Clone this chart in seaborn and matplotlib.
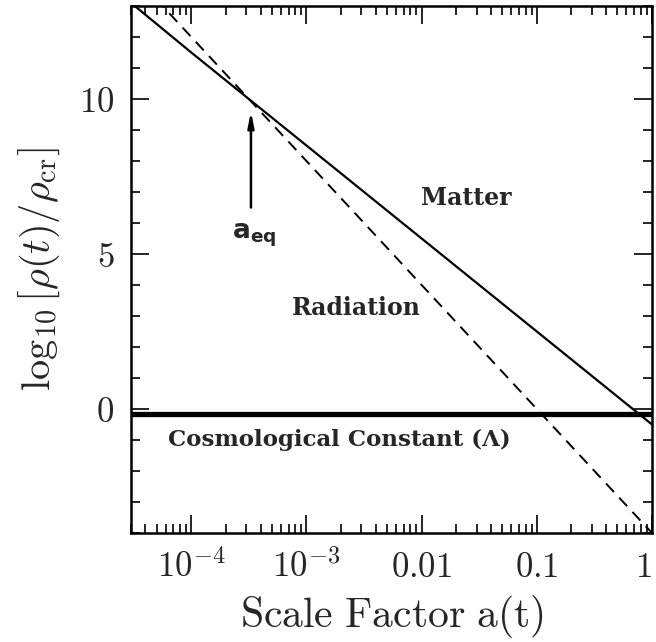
import seaborn as sns
import matplotlib.pyplot as plt
from matplotlib.ticker import LogLocator, FixedLocator, FixedFormatter, MultipleLocator, NullFormatter

# values (log10 of density / critical density)
scale_factor = [3e-5, 1e-4, 1e-3, 1e-2, 1e-1, 1.0]
matter = [13.1, 11.5, 8.5, 5.5, 2.5, -0.5]
radiation = [14.1, 12.0, 8.0, 4.0, 0.0, -4.0]
lambda_const = [-0.15, -0.15, -0.15, -0.15, -0.15, -0.15]

a_eq = 3.3e-4
x_ticks = [1e-4, 1e-3, 1e-2, 1e-1, 1.0]
x_ticklabels = [r'$10^{-4}$', r'$10^{-3}$', r'$0.01$', r'$0.1$', r'$1$']
y_ticks = [0, 5, 10]

sns.set_style("ticks")
plt.rcParams['mathtext.fontset'] = 'cm'
plt.rcParams['font.family'] = ['DejaVu Serif']

fig = plt.figure(figsize=(6.56, 6.42), dpi=100)
ax = fig.add_axes([0.1997, 0.1698, 0.7942, 0.8209])

sns.lineplot(x=scale_factor, y=matter, ax=ax, color='black', lw=1.6)
sns.lineplot(x=scale_factor, y=radiation, ax=ax, color='black', lw=1.4,
             linestyle=(0, (6, 4)))
sns.lineplot(x=scale_factor, y=lambda_const, ax=ax, color='black', lw=3.8)

ax.set_xscale('log')
ax.set_xlim(3e-5, 1.0)
ax.set_ylim(-4, 13)

ax.xaxis.set_major_locator(FixedLocator(x_ticks))
ax.xaxis.set_major_formatter(FixedFormatter(x_ticklabels))
ax.xaxis.set_minor_locator(LogLocator(base=10, subs=range(2, 10), numticks=20))
ax.xaxis.set_minor_formatter(NullFormatter())
ax.yaxis.set_major_locator(FixedLocator(y_ticks))
ax.yaxis.set_major_formatter(FixedFormatter([r'$0$', r'$5$', r'$10$']))
ax.yaxis.set_minor_locator(MultipleLocator(1))

ax.tick_params(which='both', direction='in', top=True, right=True, width=1.2, color='black')
ax.tick_params(which='major', length=13)
ax.tick_params(which='minor', length=6.5)
ax.tick_params(axis='x', which='major', labelsize=25, pad=12)
ax.tick_params(axis='y', which='major', labelsize=25, pad=12)
for sp in ax.spines.values():
    sp.set_linewidth(1.8)
    sp.set_color('black')

# keep the "1" label inside the figure
fig.canvas.draw()
last = ax.get_xticklabels()[-1]
last.set_horizontalalignment('right')
last.set_x(1.0)

ax.set_xlabel(r'$\mathrm{Scale\ Factor\ a(t)}$', fontsize=30, labelpad=6)
ax.set_ylabel(r'$\log_{10}\left[\rho(t)/\rho_{\rm cr}\right]$', fontsize=29, labelpad=12)

# annotations
ax.annotate('', xy=(a_eq, 9.6), xytext=(a_eq, 6.5),
            arrowprops=dict(arrowstyle='-|>,head_length=0.9,head_width=0.18',
                            color='black', lw=1.8, shrinkA=0, shrinkB=0))
ax.text(3.5e-4, 5.6, r'$\mathbf{a}_{\mathbf{eq}}$', fontsize=19, ha='center', va='center',
        math_fontfamily='dejavusans')
ax.text(0.0245, 6.8, 'Matter', fontsize=17, fontweight='bold', ha='center', va='center')
ax.text(2.7e-3, 3.25, 'Radiation', fontsize=17, fontweight='bold', ha='center', va='center')
ax.text(1.94e-3, -1.0, 'Cosmological Constant (Λ)', fontsize=16.5, fontweight='bold',
        ha='center', va='center')

fig.savefig('out.png', dpi=100)
